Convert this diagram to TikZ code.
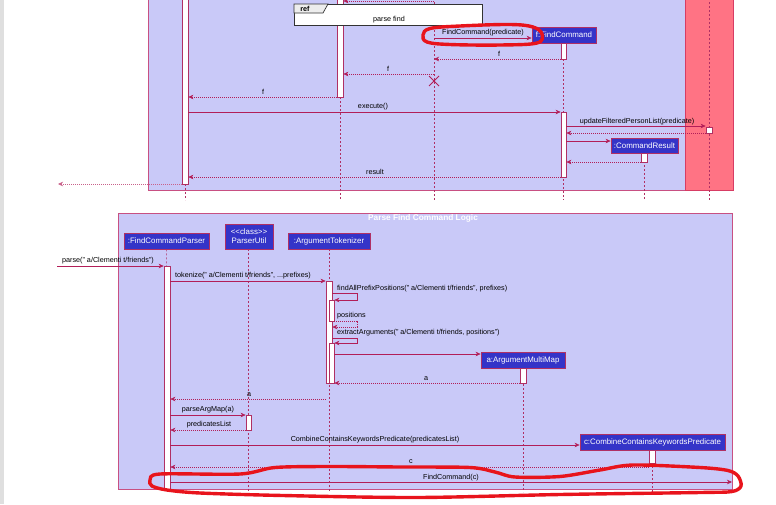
\documentclass[tikz,border=0pt]{standalone}
\usepackage{fontspec}
\setmainfont{Liberation Sans}
\usetikzlibrary{arrows.meta}
\definecolor{lav}{RGB}{201,201,248}
\definecolor{framec}{RGB}{200,80,130}
\definecolor{partfill}{RGB}{52,52,200}
\definecolor{bordc}{RGB}{176,48,100}
\definecolor{arrc}{RGB}{178,30,88}
\definecolor{pinkbox}{RGB}{255,115,132}
\definecolor{pinkbord}{RGB}{215,60,100}
\definecolor{annot}{RGB}{232,20,28}
\begin{document}
\begin{tikzpicture}[x=1pt,y=-1pt,
  part/.style={draw=bordc,line width=0.8pt,fill=partfill,text=white,inner sep=0pt,
    font=\fontsize{7.9}{9.2}\selectfont,align=center},
  actbar/.style={draw=bordc,line width=0.7pt,fill=white,inner sep=0pt,minimum width=6pt,anchor=north},
  lifel/.style={draw=bordc,line width=0.5pt,dash pattern=on 2pt off 2pt},
  msg/.style={draw=arrc,line width=0.6pt,-{Stealth[length=5pt,width=4.5pt,inset=1.5pt]}},
  ret/.style={msg,dash pattern=on 1pt off 1pt},
  lbl/.style={inner sep=0pt,font=\fontsize{7.2}{8.5}\selectfont,text=black},
  annotline/.style={draw=annot,line width=3.4pt,line cap=round,line join=round}
]
\useasboundingbox (0,0) rectangle (776,504);
% left gray strip
\fill[gray!25] (0,0) rectangle (4,504);

% ================= TOP DIAGRAM =================
\fill[lav] (148,-2) rectangle (685,190);
\draw[framec,line width=0.7pt] (148,-2) -- (148,190) -- (685,190);
\fill[pinkbox] (685,-2) rectangle (733,190);
\draw[pinkbord,line width=0.7pt] (685,-2) -- (685,190) -- (733,190) -- (733,-2);

% lifelines
\draw[lifel] (185,184) -- (185,200);
\draw[lifel] (340,97) -- (340,200);
\draw[lifel] (434,-2) -- (434,200);
\draw[lifel] (563,43) -- (563,200);
\draw[lifel] (709,-2) -- (709,200);
\draw[lifel] (644,153) -- (644,200);

% activation bars
\node[actbar,minimum height=186pt] (barA) at (185,-2) {};
\node[actbar,minimum height=99pt] (barB) at (340,-2) {};
\node[actbar,minimum height=16pt,minimum width=5pt] (barF1) at (563.5,43) {};
\node[actbar,minimum height=65pt,minimum width=5pt] (barF2) at (563.5,112) {};
\node[actbar,minimum height=6pt] (barM) at (709,127) {};
\node[actbar,minimum height=9pt] (barR) at (644,153) {};

% participants
\node[part,minimum width=64pt,minimum height=16pt] (fcmd) at (564,35) {f:FindCommand};
\node[part,minimum width=67pt,minimum height=15pt] (cres) at (644.5,145.5) {:CommandResult};

% top cut message
\coordinate (topA) at (434,1);
\draw[ret] (topA) -- (barB.east |- topA);

% ref frame
\draw[black!80,line width=0.9pt,fill=white] (294,4) rectangle (482,25);
\draw[black!80,line width=0.7pt,fill=black!7] (294,4) -- (328,4) -- (323,13) -- (294,13) -- cycle;
\node[inner sep=0pt,font=\bfseries\fontsize{7.2}{8}\selectfont] (reflbl) at (305,8.5) {ref};
\node[lbl] (refname) at (389,19.5) {parse find};

% destroy mark
\coordinate (xmark) at (434,81);
\draw[arrc,line width=0.8pt] ([shift={(-5,-5)}]xmark) -- ([shift={(5,5)}]xmark)
  ([shift={(-5,5)}]xmark) -- ([shift={(5,-5)}]xmark);

% messages
\coordinate (m1s) at (434,38);
\draw[msg] (m1s) -- (fcmd.west |- m1s);
\node[lbl] (m1l) at (483,33) {FindCommand(predicate)};

\coordinate (m2e) at (434,59);
\draw[ret] (barF1.west |- m2e) -- (m2e);
\node[lbl] (m2l) at (499,54) {f};

\coordinate (m3s) at (434,74);
\draw[ret] (m3s) -- (barB.east |- m3s);
\node[lbl] (m3l) at (388,69) {f};

\coordinate (m4y) at (0,97);
\draw[ret] (barB.west |- m4y) -- (barA.east |- m4y);
\node[lbl] (m4l) at (263,92) {f};

\coordinate (m5y) at (0,112);
\draw[msg] (barA.east |- m5y) -- (barF2.west |- m5y);
\node[lbl] (m5l) at (373,107) {execute()};

\coordinate (m6y) at (0,126);
\draw[msg] (barF2.east |- m6y) -- (barM.west |- m6y);
\node[lbl] (m6l) at (637,121.5) {updateFilteredPersonList(predicate)};

\coordinate (m7y) at (0,133);
\draw[ret] (barM.west |- m7y) -- (barF2.east |- m7y);

\coordinate (m8y) at (0,141);
\draw[msg] (barF2.east |- m8y) -- (cres.west |- m8y);

\coordinate (m9y) at (0,162);
\draw[ret] (barR.west |- m9y) -- (barF2.east |- m9y);

\coordinate (m10y) at (0,177);
\draw[ret] (barF2.west |- m10y) -- (barA.east |- m10y);
\node[lbl] (m10l) at (375,172) {result};

\coordinate (outL) at (58,184);
\draw[ret,draw=arrc!70] (barA.west |- outL) -- (outL);

% ================= BOTTOM DIAGRAM =================
\draw[framec,line width=0.7pt,fill=lav] (118,213) rectangle (732,489);
\node[inner sep=0pt,text=white,font=\bfseries\fontsize{8.3}{9}\selectfont] (title) at (423,218.5) {Parse Find Command Logic};

% participants
\node[part,minimum width=85pt,minimum height=16pt] (fcp) at (166.5,241) {:FindCommandParser};
\node[part,minimum width=48pt,minimum height=25pt] (pu) at (249,236.5) {{<}{<}class{>}{>}\\ParserUtil};
\node[part,minimum width=82pt,minimum height=16pt] (at) at (329,241) {:ArgumentTokenizer};

% lifelines
\draw[lifel] (fcp.south) -- (167,492);
\draw[lifel] (pu.south -| 248,0) -- (248,492);
\draw[lifel] (at.south) -- (329,492);
\draw[lifel] (523,368) -- (523,492);
\draw[lifel] (652,450) -- (652,492);

% activation bars
\node[actbar,minimum height=223pt] (bFCP) at (167,266) {};
\node[actbar,minimum height=15pt,minimum width=5pt] (bPU) at (248.5,415) {};
\node[actbar,minimum height=102pt] (bAT) at (329,281) {};
\node[actbar,minimum height=21pt,minimum width=5pt] (bAT1) at (331.5,300) {};
\node[actbar,minimum height=40pt,minimum width=5pt] (bAT2) at (331.5,343) {};

\node[part,minimum width=84pt,minimum height=16pt] (amm) at (523,360) {a:ArgumentMultiMap};
\node[actbar,minimum height=15pt] (bAMM) at (523,368) {};
\node[part,minimum width=145pt,minimum height=16pt] (cckp) at (652.5,442) {c:CombineContainsKeywordsPredicate};
\node[actbar,minimum height=13pt] (bCC) at (652,450) {};

% messages
\coordinate (pin) at (57,266);
\draw[msg] (pin) -- (bFCP.west |- pin);
\node[lbl,anchor=west] (b1l) at (62,261) {parse(" a/Clementi t/friends")};

\coordinate (b2y) at (0,281);
\draw[msg] (bFCP.east |- b2y) -- (bAT.west |- b2y);
\node[lbl,anchor=west] (b2l) at (175,276) {tokenize(" a/Clementi t/friends", ...prefixes)};

\coordinate (s1a) at (357,293);
\coordinate (s1b) at (357,300);
\draw[msg] (bAT.east |- s1a) -- (s1a) -- (s1b) -- (bAT1.east |- s1b);
\node[lbl,anchor=west] (b3l) at (337,288.5) {findAllPrefixPositions(" a/Clementi t/friends", prefixes)};

\coordinate (s2a) at (357,321);
\coordinate (s2b) at (357,327);
\draw[ret] (bAT1.east |- s2a) -- (s2a) -- (s2b) -- (bAT.east |- s2b);
\node[lbl,anchor=west] (b4l) at (337,316) {positions};

\coordinate (s3a) at (357,338);
\coordinate (s3b) at (357,343);
\draw[msg] (bAT.east |- s3a) -- (s3a) -- (s3b) -- (bAT2.east |- s3b);
\node[lbl,anchor=west] (b5l) at (337,333) {extractArguments(" a/Clementi t/friends, positions")};

\coordinate (b6y) at (0,354);
\draw[msg] (bAT2.east |- b6y) -- (amm.west |- b6y);

\coordinate (b7y) at (0,383);
\draw[ret] (bAMM.west |- b7y) -- (bAT2.east |- b7y);
\node[lbl] (b7l) at (426,379) {a};

\coordinate (b8y) at (0,399);
\draw[ret] (bAT.west |- b8y) -- (bFCP.east |- b8y);
\node[lbl] (b8l) at (249,395) {a};

\coordinate (b9y) at (0,415);
\draw[msg] (bFCP.east |- b9y) -- (bPU.west |- b9y);
\node[lbl] (b9l) at (208,410) {parseArgMap(a)};

\coordinate (b10y) at (0,430);
\draw[ret] (bPU.west |- b10y) -- (bFCP.east |- b10y);
\node[lbl] (b10l) at (209,425) {predicatesList};

\coordinate (b11y) at (0,445);
\draw[msg] (bFCP.east |- b11y) -- (cckp.west |- b11y);
\node[lbl] (b11l) at (375,440) {CombineContainsKeywordsPredicate(predicatesList)};

\coordinate (b12y) at (0,467);
\draw[ret] (bCC.west |- b12y) -- (bFCP.east |- b12y);
\node[lbl] (b12l) at (411,462) {c};

\coordinate (fout) at (732,482);
\draw[msg] (bFCP.east |- fout) -- (fout);
\node[lbl] (b13l) at (451,478) {FindCommand(c)};

% ================= ANNOTATIONS =================
\draw[annotline] plot[smooth cycle,tension=0.6] coordinates {
  (423,35) (430,28.5) (460,26) (510,24.5) (533,27) (542,34) (537,43) (500,45) (450,44.5) (427,42)};
\draw[annotline] plot[smooth cycle,tension=0.5] coordinates {
  (150,480) (160,474) (240,474) (275,467.5) (330,466.5) (400,467) (470,467.5) (495,472) (515,477)
  (560,476.5) (600,470) (633,465) (700,467.5) (728,470.5) (738,476)
  (741,486) (732,491.5) (700,492.5) (560,494.5) (417,497.5) (283,495.5) (200,493) (167,490) (152,486)};
\end{tikzpicture}
\end{document}
